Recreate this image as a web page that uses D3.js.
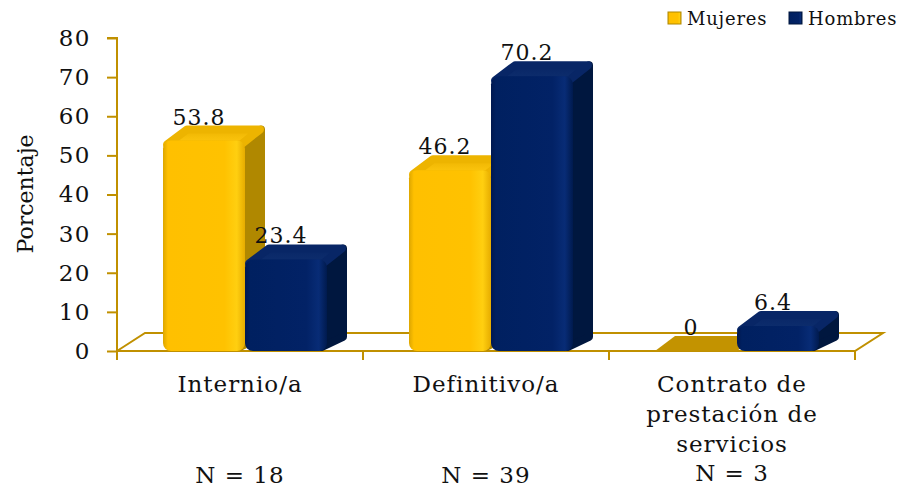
<!DOCTYPE html>
<html>
<head>
<meta charset="utf-8">
<script src="https://cdn.jsdelivr.net/npm/d3@7"></script>
<style>
  html, body { margin: 0; padding: 0; background: #fff; }
  svg { display: block; }
  text { font-family: "DejaVu Serif", "Liberation Serif", serif; fill: #111; }
</style>
</head>
<body>
<svg id="chart" width="905" height="489"></svg>
<script>
// Data
const categories = ["Internio/a", "Definitivo/a", "Contrato de prestación de servicios"];
const categoryLines = [["Internio/a"], ["Definitivo/a"], ["Contrato de", "prestación de", "servicios"]];
const sampleSizes = ["N = 18", "N = 39", "N = 3"];
const series = ["Mujeres", "Hombres"];
const mujeres = [53.8, 46.2, 0];
const hombres = [23.4, 70.2, 6.4];
const yTicks = [0, 10, 20, 30, 40, 50, 60, 70, 80];

const values = { Mujeres: mujeres, Hombres: hombres };

const svg = d3.select("#chart");
const defs = svg.append("defs");
const axisColor = "#C09000";

// Plot geometry
const plot = { left: 117, right: 855, top: 38, bottom: 351 };
const floorDepth = { dx: 28, dy: -18 };
const barDepth = { dx: 20, dy: -15 };

const y = d3.scaleLinear().domain([0, 80]).range([plot.bottom, plot.top]);
const x0 = d3.scaleBand().domain(categories).range([plot.left, plot.right]).padding(0);
const x1 = d3.scaleBand().domain(series).range([0, x0.bandwidth()]).paddingInner(0).paddingOuter(0.5);
const groupShift = 5;

// Colour palettes for the 3D faces
const palette = {
  Mujeres: { front: ["#DDA600", "#FFC000", "#FFC200", "#FFCF10", "#E6AC00"], top: ["#EDB400", "#FFC810"], side: "#B08800", flat: "#C39300" },
  Hombres: { front: ["#001850", "#002060", "#022266", "#082C76", "#001A4E"], top: ["#082666", "#0E2E6E"], side: "#00173F", flat: "#002060" }
};

series.forEach(s => {
  const p = palette[s];
  const g = defs.append("linearGradient").attr("id", "front-" + s).attr("x1", 0).attr("x2", 1).attr("y1", 0).attr("y2", 0);
  [[0, p.front[0]], [0.06, p.front[1]], [0.75, p.front[2]], [0.9, p.front[3]], [1, p.front[4]]]
    .forEach(([o, c]) => g.append("stop").attr("offset", o).attr("stop-color", c));
  const t = defs.append("linearGradient").attr("id", "top-" + s).attr("x1", 0).attr("x2", 0).attr("y1", 0).attr("y2", 1);
  t.append("stop").attr("offset", 0).attr("stop-color", p.top[0]);
  t.append("stop").attr("offset", 1).attr("stop-color", p.top[1]);
});

// Floor outline
const floor = svg.append("g").attr("fill", "none").attr("stroke", axisColor).attr("stroke-width", 2);
floor.append("path").attr("d", d3.line()([
  [plot.left, plot.bottom], [plot.right, plot.bottom],
  [plot.right + floorDepth.dx, plot.bottom + floorDepth.dy],
  [plot.left + floorDepth.dx, plot.bottom + floorDepth.dy],
  [plot.left, plot.bottom]
]));

// Y axis
const yAxis = svg.append("g").attr("transform", `translate(${plot.left},0)`)
  .call(d3.axisLeft(y).tickValues(yTicks).tickSize(10).tickPadding(16).tickFormat(d3.format("d")));
yAxis.select(".domain").attr("stroke", axisColor).attr("stroke-width", 2)
  .attr("d", `M-10,${plot.top}H0V${plot.bottom + 7}`);
yAxis.selectAll(".tick line").attr("stroke", axisColor).attr("stroke-width", 2);
yAxis.selectAll(".tick text").attr("font-size", 23).attr("font-family", "DejaVu Serif").attr("fill", "#111").attr("letter-spacing", 1.5);

// Category ticks
const xTickPos = categories.map(c => x0(c)).concat([plot.right]);
svg.append("g").selectAll("line").data(xTickPos).join("line")
  .attr("x1", d => d).attr("x2", d => d)
  .attr("y1", plot.bottom).attr("y2", plot.bottom + 9)
  .attr("stroke", axisColor).attr("stroke-width", 2);

// Bars
const bars = svg.append("g");
categories.forEach((cat, i) => {
  series.forEach(s => {
    const v = values[s][i];
    const bx = x0(cat) + x1(s) + groupShift;
    const w = x1.bandwidth();
    const yt = y(v), yb = y(0);
    const p = palette[s];
    const g = bars.append("g");
    if (v === 0) {
      g.append("path").attr("fill", p.flat)
        .attr("d", d3.line()([[bx, yb], [bx + w, yb], [bx + w + barDepth.dx, yb + barDepth.dy], [bx + barDepth.dx, yb + barDepth.dy]]) + "Z");
    } else {
      const r = 8;
      // side face
      g.append("path").attr("fill", p.side).attr("stroke", p.side).attr("stroke-width", 8).attr("stroke-linejoin", "round")
        .attr("d", d3.line()([[bx + w - 5, yb - 4], [bx + w + barDepth.dx - 4, yb + barDepth.dy + 1], [bx + w + barDepth.dx - 4, yt + barDepth.dy + 4], [bx + w - 5, yt + 4]]) + "Z");
      // top face
      g.append("path").attr("fill", `url(#top-${s})`).attr("stroke", p.top[0]).attr("stroke-width", 8).attr("stroke-linejoin", "round")
        .attr("d", d3.line()([[bx + 4, yt + 4], [bx + barDepth.dx + 4, yt + barDepth.dy + 4], [bx + w + barDepth.dx - 5, yt + barDepth.dy + 4], [bx + w - 4, yt + 4]]) + "Z");
      // front face
      g.append("rect").attr("x", bx).attr("y", yt).attr("width", w).attr("height", yb - yt)
        .attr("rx", Math.min(r, (yb - yt) / 2)).attr("fill", `url(#front-${s})`);
    }
    // value label
    g.append("text")
      .attr("x", bx + w / 2 - 5).attr("y", yt - 16)
      .attr("text-anchor", "middle").attr("font-size", 22).attr("letter-spacing", 1)
      .text(v);
  });
});

// Category labels and sample sizes
const labels = svg.append("g").attr("text-anchor", "middle").attr("font-size", 23).attr("letter-spacing", 1);
categories.forEach((cat, i) => {
  const cx = x0(cat) + x0.bandwidth() / 2;
  categoryLines[i].forEach((line, j) => {
    labels.append("text").attr("x", cx).attr("y", 392 + j * 30).text(line);
  });
  labels.append("text").attr("x", cx).attr("y", categoryLines[i].length > 1 ? 481 : 483).text(sampleSizes[i]);
});

// Axis title
svg.append("text")
  .attr("transform", "translate(33,194) rotate(-90)")
  .attr("text-anchor", "middle").attr("font-size", 22)
  .text("Porcentaje");

// Legend
const legend = svg.append("g").attr("font-size", 18).attr("letter-spacing", 0.8);
const legendX = [668, 789];
series.forEach((s, i) => {
  legend.append("rect").attr("x", legendX[i]).attr("y", 12).attr("width", 13).attr("height", 12)
    .attr("fill", `url(#front-${s})`).attr("stroke", palette[s].side).attr("stroke-width", 1);
  legend.append("text").attr("x", legendX[i] + 19).attr("y", 25).text(s);
});
</script>
</body>
</html>
